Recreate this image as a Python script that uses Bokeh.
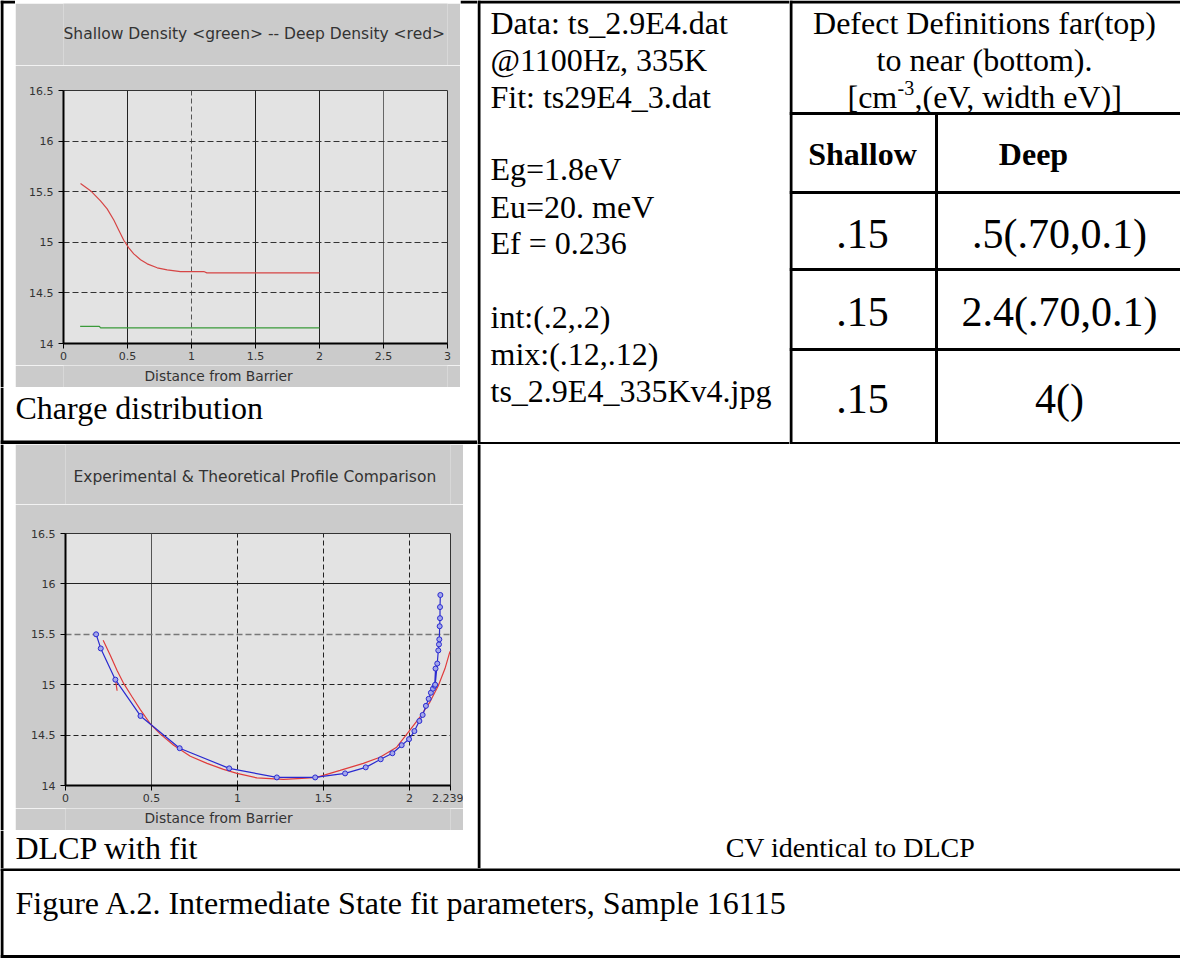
from bokeh.plotting import figure
from bokeh.layouts import row, column
from bokeh.models import Range1d, FixedTicker, Grid, NumeralTickFormatter
from bokeh.embed import file_html
from bokeh.resources import INLINE
from bokeh.core.properties import value

# ---------------- data ----------------
# Chart 1: charge distribution (log10 density vs distance from barrier)
deep_x = [0.133, 0.211, 0.289, 0.341, 0.393, 0.432, 0.471, 0.510, 0.549, 0.602,
          0.654, 0.732, 0.810, 0.914, 1.096, 1.120, 2.0]
deep_y = [15.58, 15.51, 15.41, 15.33, 15.22, 15.12, 15.02, 14.945, 14.886, 14.827,
          14.787, 14.748, 14.728, 14.711, 14.711, 14.698, 14.698]
shallow_x = [0.13, 0.28, 0.29, 2.0]
shallow_y = [14.17, 14.17, 14.155, 14.155]
c1_xticks = [0, 0.5, 1, 1.5, 2, 2.5, 3]
c1_yticks = [14, 14.5, 15, 15.5, 16, 16.5]

# Chart 2: DLCP profile with theoretical fit
dlcp_x = [0.178, 0.205, 0.290, 0.436, 0.664, 0.952, 1.229, 1.452, 1.626, 1.746,
          1.833, 1.901, 1.955, 1.998, 2.029, 2.058, 2.077, 2.096, 2.112, 2.125,
          2.137, 2.147, 2.152, 2.150, 2.162, 2.168, 2.172, 2.174, 2.176, 2.178,
          2.178, 2.180]
dlcp_y = [15.50, 15.36, 15.05, 14.69, 14.37, 14.17, 14.08, 14.08, 14.12, 14.18,
          14.26, 14.32, 14.40, 14.46, 14.54, 14.64, 14.70, 14.79, 14.86, 14.92,
          14.96, 14.99, 15.16, 15.00, 15.21, 15.34, 15.40, 15.45, 15.58, 15.66,
          15.77, 15.89]
fit_x = [0.219, 0.261, 0.300, 0.339, 0.387, 0.436, 0.494, 0.552, 0.629, 0.726,
         0.823, 0.919, 0.997, 1.113, 1.268, 1.375, 1.461, 1.597, 1.732, 1.829,
         1.926, 2.003, 2.062, 2.120, 2.168, 2.207, 2.236]
fit_y = [15.44, 15.29, 15.14, 15.01, 14.88, 14.75, 14.61, 14.51, 14.40, 14.29,
         14.22, 14.16, 14.12, 14.075, 14.06, 14.07, 14.08, 14.15, 14.22, 14.28,
         14.38, 14.55, 14.68, 14.83, 14.99, 15.16, 15.33]
fit_tail_x = [0.290, 0.300]
fit_tail_y = [15.06, 14.94]
c2_xticks = [0, 0.5, 1, 1.5, 2, 2.239]
c2_yticks = [14, 14.5, 15, 15.5, 16, 16.5]

# Text content
info_lines = ["Data: ts_2.9E4.dat", "@1100Hz, 335K", "Fit: ts29E4_3.dat",
              "Eg=1.8eV", "Eu=20. meV", "Ef = 0.236",
              "int:(.2,.2)", "mix:(.12,.12)", "ts_2.9E4_335Kv4.jpg"]
header_lines = ["Defect Definitions far(top)", "to near (bottom)."]
col_heads = ["Shallow", "Deep"]
shallow_vals = [".15", ".15", ".15"]
deep_vals = [".5(.70,0.1)", "2.4(.70,0.1)", "4()"]

SERIF = value("Liberation Serif")
SANS = "DejaVu Sans"
PANEL = "#cbcbcb"


def canvas(w, h, bg="white"):
    f = figure(width=w, height=h, x_range=Range1d(0, w), y_range=Range1d(h, 0),
               min_border=0, toolbar_location=None, output_backend="svg",
               x_axis_type=None, y_axis_type=None, outline_line_color=None,
               background_fill_color=bg, border_fill_color=bg, margin=0)
    return f


def panel_strip(w, h, bl, br, bg=PANEL):
    # strip stacked with a chart: its frame lines up with the chart frame,
    # so its x range is expressed in the strip's own pixel columns
    f = figure(width=w, height=h, x_range=Range1d(bl, w - br), y_range=Range1d(h, 0),
               min_border_left=bl, min_border_right=br, min_border_top=0,
               min_border_bottom=0, toolbar_location=None, output_backend="svg",
               x_axis_type=None, y_axis_type=None, outline_line_color=None,
               background_fill_color=bg, border_fill_color=bg, margin=0)
    return f


def hline(f, y, x0, x1, w=3):
    f.segment(x0=[x0], y0=[y], x1=[x1], y1=[y], line_color="black", line_width=w)


def vline(f, x, y0, y1, w=3):
    f.segment(x0=[x], y0=[y0], x1=[x], y1=[y1], line_color="black", line_width=w)


def serif(f, x, y, texts, size="32px", align="left", style="normal"):
    f.text(x=x, y=y, text=texts, text_font=SERIF, text_font_size=size,
           text_font_style=style, text_align=align, text_baseline="middle",
           text_color="black")


def sans(f, x, y, t, size):
    f.text(x=[x], y=[y], text=[t], text_font=value(SANS), text_font_size=size,
           text_align="left", text_baseline="middle", text_color="#333333")


def chart(w, h, bl, br, bt, bb, xr, yr, xt, yt):
    p = figure(width=w, height=h, x_range=Range1d(*xr), y_range=Range1d(*yr),
               min_border_left=bl, min_border_right=br, min_border_top=bt,
               min_border_bottom=bb, toolbar_location=None, output_backend="svg",
               background_fill_color="#e3e3e3", border_fill_color=PANEL,
               outline_line_color="#333333", outline_line_width=1, margin=0)
    p.xgrid.visible = False
    p.ygrid.visible = False
    for ax, ticks, so in ((p.xaxis[0], xt, 3), (p.yaxis[0], yt, 5)):
        ax.ticker = FixedTicker(ticks=ticks)
        ax.formatter = NumeralTickFormatter(format="0.[000]")
        ax.axis_line_width = 2
        ax.axis_line_color = "black"
        ax.major_tick_out = 5
        ax.major_tick_in = 0
        ax.major_tick_line_color = "black"
        ax.minor_tick_line_color = None
        ax.major_label_text_font = SANS
        ax.major_label_text_font_size = "11px"
        ax.major_label_text_color = "#333333"
        ax.major_label_standoff = so
    return p


def grid(p, dim, ticks, color, dash="solid", width=1):
    p.add_layout(Grid(dimension=dim, ticker=FixedTicker(ticks=ticks),
                      grid_line_color=color, grid_line_dash=dash,
                      grid_line_width=width))


# ---------------- chart 1 ----------------
p1 = chart(445, 300, 48, 13, 25, 22, (0, 3), (14, 16.5), c1_xticks, c1_yticks)
grid(p1, 0, [0.5, 1.5, 2], "#222222")
grid(p1, 0, [2.5], "#666666")
grid(p1, 0, [1], "#555555", "5 3")
grid(p1, 1, [14.5, 15, 15.5, 16], "#333333", "6 3")
p1.line(deep_x, deep_y, line_color="#d64545", line_width=1.2)
p1.line(shallow_x, shallow_y, line_color="#3a9a3a", line_width=1.2)

strip1 = panel_strip(445, 3, 48, 13, "black")
t1 = panel_strip(445, 62, 48, 13)
sans(t1, 48, 30, "Shallow Density <green> -- Deep Density <red>", "15.5px")
x1 = panel_strip(445, 22, 48, 13)
sans(x1, 129, 10, "Distance from Barrier", "13.8px")

# ---------------- chart 2 ----------------
p2 = chart(448, 304, 50, 13, 29, 23, (0, 2.239), (14, 16.5), c2_xticks, c2_yticks)
grid(p2, 0, [0.5], "#555555")
grid(p2, 0, [1, 1.5, 2], "#222222", "5 3")
grid(p2, 1, [16], "#222222")
grid(p2, 1, [15.5], "#777777", "6 3", 1.5)
grid(p2, 1, [15, 14.5], "#222222", "5 3")
p2.line(fit_x, fit_y, line_color="#e03c3c", line_width=1.2)
p2.line(fit_tail_x, fit_tail_y, line_color="#e03c3c", line_width=1.2)
p2.line(dlcp_x, dlcp_y, line_color="#2a2ad0", line_width=1.2)
p2.scatter(dlcp_x, dlcp_y, marker="circle", size=5, line_color="#2a2ad0",
           fill_color="#a3a7ea", line_width=1)

t2 = panel_strip(448, 60, 50, 13)
sans(t2, 58, 32, "Experimental & Theoretical Profile Comparison", "15.5px")
x2 = panel_strip(448, 22, 50, 13)
sans(x2, 129, 9, "Distance from Barrier", "13.8px")

# ---------------- top row ----------------
padL1 = canvas(15, 387)
vline(padL1, 1.5, 0, 387)
hline(padL1, 1.5, 0, 15)
padR1 = canvas(17, 387)
hline(padR1, 1.5, 0, 17)
charge = canvas(477, 57)
vline(charge, 1.5, 0, 57)
hline(charge, 55, 0, 477, 4)
serif(charge, [15], [20], ["Charge distribution"])
col1 = column(strip1, t1, p1, x1, spacing=0, margin=0)
cellA = column(row(padL1, col1, padR1, spacing=0, margin=0), charge,
               spacing=0, margin=0)

cellB = canvas(312, 444)
vline(cellB, 1.5, 0, 444)
hline(cellB, 1.5, 0, 312)
hline(cellB, 443, 0, 312)
serif(cellB, [13] * 9, [22, 59, 96, 168, 206, 242, 316, 353, 390], info_lines)

cellC = canvas(391, 444)
vline(cellC, 1.5, 0, 444)
hline(cellC, 1.5, 0, 391)
for yy in [113, 192, 269, 349, 443]:
    hline(cellC, yy, 0, 391)
vline(cellC, 147, 113, 444)
serif(cellC, [195, 195], [22, 59], header_lines, align="center")
serif(cellC, [58, 125], [96, 96], ["[cm", ",(eV, width eV)]"])
serif(cellC, [108], [87], ["-3"], size="20px")
serif(cellC, [73, 244], [153, 153], col_heads, align="center", style="bold")
serif(cellC, [73] * 3, [233, 311, 398], shallow_vals, size="42px", align="center")
serif(cellC, [270] * 3, [233, 311, 398], deep_vals, size="42px", align="center")

top = row(cellA, cellB, cellC, spacing=0, margin=0)

# ---------------- bottom row ----------------
padL2 = canvas(15, 386)
vline(padL2, 1.5, 0, 386)
padR2 = canvas(14, 386)
dlcp = canvas(477, 38)
vline(dlcp, 1.5, 0, 38)
serif(dlcp, [15], [17], ["DLCP with fit"])
col2 = column(t2, p2, x2, spacing=0, margin=0)
cellD = column(row(padL2, col2, padR2, spacing=0, margin=0), dlcp,
               spacing=0, margin=0)

cellE = canvas(703, 424)
vline(cellE, 1.5, 0, 424)
serif(cellE, [373], [403], ["CV identical to DLCP"], size="28px", align="center")
bottom = row(cellD, cellE, spacing=0, margin=0)

caption = canvas(1180, 90)
hline(caption, 1, 0, 1180)
hline(caption, 88, 0, 1180)
vline(caption, 1.5, 0, 90)
serif(caption, [15], [34], ["Figure A.2. Intermediate State fit parameters, Sample 16115"])

page = column(top, bottom, caption, spacing=0, margin=0)

open("out.html", "w").write(file_html(page, INLINE))
